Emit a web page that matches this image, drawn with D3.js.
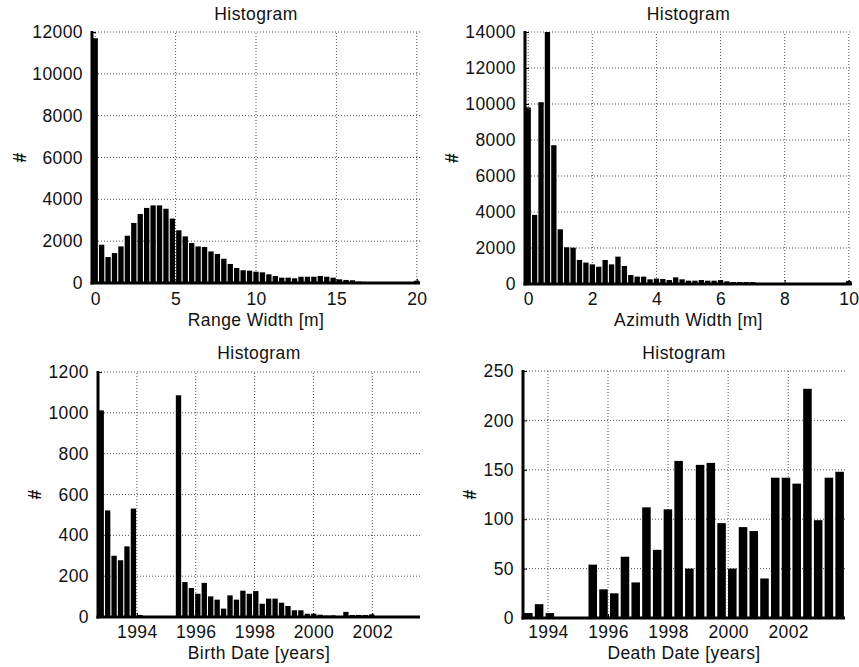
<!DOCTYPE html>
<html>
<head>
<meta charset="utf-8">
<script src="https://cdn.jsdelivr.net/npm/d3@7"></script>
<style>
  body { margin: 0; background: #fff; }
  svg text { font-family: "Liberation Sans", Arial, sans-serif; fill: #111; letter-spacing: 0.4px; }
</style>
</head>
<body>
<svg id="chart" width="859" height="667"></svg>
<script>
// Range width histogram, bins of 0.4 m centred on 0 .. 20
const rangeDomain = [-0.2, 20.2];
const rangeCounts = [11700, 1830, 1240, 1430, 1750, 2260, 2870, 3300, 3590, 3710,
  3710, 3550, 3080, 2520, 2230, 1910, 1750, 1720, 1510, 1390,
  1160, 910, 720, 610, 590, 540, 510, 415, 335, 255,
  255, 225, 300, 300, 300, 335, 300, 255, 175, 145,
  130, 65, 40, 30, 20, 10, 8, 6, 5, 4, 110];
const rangeXTicks = [0, 5, 10, 15, 20];
const rangeYTicks = [0, 2000, 4000, 6000, 8000, 10000, 12000];

// Azimuth width histogram, bins of 0.2 m centred on 0 .. 10
const azimuthDomain = [-0.1, 10.1];
const azimuthCounts = [9810, 3840, 10100, 14000, 7710, 3040, 2040, 2020, 1335, 1190,
  1090, 960, 1335, 1090, 1520, 1000, 500, 410, 410, 260,
  300, 280, 220, 370, 260, 185, 185, 220, 185, 185,
  220, 150, 110, 110, 110, 110, 60, 50, 40, 40,
  30, 30, 25, 20, 20, 15, 15, 10, 10, 10, 170];
const azimuthXTicks = [0, 2, 4, 6, 8, 10];
const azimuthYTicks = [0, 2000, 4000, 6000, 8000, 10000, 12000, 14000];

// Birth date histogram, 50 bins
const birthDomain = [1992.68, 2003.62];
const birthCounts = [1012, 522, 300, 278, 346, 531, 10, 0, 0, 0,
  0, 0, 1086, 171, 142, 114, 167, 101, 85, 41,
  106, 85, 129, 114, 127, 65, 90, 90, 70, 54,
  33, 33, 16, 16, 11, 7, 8, 3, 25, 10,
  10, 10, 13, 2, 2, 2, 2, 2, 2, 2];
const birthXTicks = [1994, 1996, 1998, 2000, 2002];
const birthYTicks = [0, 200, 400, 600, 800, 1000, 1200];

// Death date histogram, 30 bins
const deathDomain = [1993.17, 2003.89];
const deathCounts = [5, 14, 5, 0, 0, 0, 54, 29, 25, 62,
  36, 112, 69, 110, 159, 50, 155, 157, 96, 50,
  92, 88, 40, 142, 142, 136, 232, 99, 142, 148];
const deathXTicks = [1994, 1996, 1998, 2000, 2002];
const deathYTicks = [0, 50, 100, 150, 200, 250];

const panels = [
  { x: [92, 420], y: [283, 32], domain: rangeDomain, counts: rangeCounts,
    xTicks: rangeXTicks, yTicks: rangeYTicks, xLabel: 'Range Width [m]',
    titleY: 20, tickY: 305, labelY: 326, hashX: 20, gap: 1.1 },
  { x: [525, 852], y: [284, 32], domain: azimuthDomain, counts: azimuthCounts,
    xTicks: azimuthXTicks, yTicks: azimuthYTicks, xLabel: 'Azimuth Width [m]',
    titleY: 20, tickY: 305, labelY: 326, hashX: 452, gap: 1.1 },
  { x: [98, 420], y: [617, 372], domain: birthDomain, counts: birthCounts,
    xTicks: birthXTicks, yTicks: birthYTicks, xLabel: 'Birth Date [years]',
    titleY: 359, tickY: 638, labelY: 659, hashX: 35, gap: 1.1 },
  { x: [523, 845], y: [618, 371], domain: deathDomain, counts: deathCounts,
    xTicks: deathXTicks, yTicks: deathYTicks, xLabel: 'Death Date [years]',
    titleY: 359, tickY: 638, labelY: 659, hashX: 470, gap: 2.2 },
];

const FONT = 17.5;
const svg = d3.select('#chart');

function drawHistogram(p) {
  const g = svg.append('g');
  const xScale = d3.scaleLinear().domain(p.domain).range(p.x);
  const yScale = d3.scaleLinear()
    .domain([0, d3.max(p.yTicks)])
    .range(p.y);
  const binW = (p.domain[1] - p.domain[0]) / p.counts.length;
  const bins = p.counts.map((c, i) => ({ x0: p.domain[0] + i * binW, x1: p.domain[0] + (i + 1) * binW, c }));

  // dotted grid
  g.append('g').selectAll('line.hgrid')
    .data(p.yTicks.filter((d) => d > 0))
    .join('line')
      .attr('x1', p.x[0]).attr('x2', p.x[1])
      .attr('y1', (d) => yScale(d)).attr('y2', (d) => yScale(d))
      .attr('stroke', '#555').attr('stroke-width', 1).attr('stroke-dasharray', '1,2');
  g.append('g').selectAll('line.vgrid')
    .data(p.xTicks)
    .join('line')
      .attr('x1', (d) => xScale(d)).attr('x2', (d) => xScale(d))
      .attr('y1', p.y[0]).attr('y2', p.y[1])
      .attr('stroke', '#555').attr('stroke-width', 1).attr('stroke-dasharray', '1,2');

  // bars
  g.append('g').selectAll('rect')
    .data(bins)
    .join('rect')
      .attr('x', (d) => xScale(d.x0) + p.gap / 2)
      .attr('width', (d) => Math.max(0, xScale(d.x1) - xScale(d.x0) - p.gap))
      .attr('y', (d) => yScale(d.c))
      .attr('height', (d) => yScale(0) - yScale(d.c))
      .attr('fill', '#000');

  // axes
  const yAxis = d3.axisLeft(yScale).tickValues(p.yTicks).tickSize(-4).tickPadding(9).tickFormat(d3.format('d'));
  const xAxis = d3.axisBottom(xScale).tickValues(p.xTicks).tickSize(-4).tickPadding(0).tickFormat(d3.format('d'));

  const ya = g.append('g')
    .attr('transform', `translate(${p.x[0]},0)`)
    .call(yAxis);
  ya.select('.domain').remove();
  ya.selectAll('.tick line').attr('stroke', '#000');
  ya.selectAll('.tick text').attr('font-size', FONT).attr('fill', '#111');

  const xa = g.append('g')
    .attr('transform', `translate(0,${p.y[0]})`)
    .call(xAxis);
  xa.select('.domain').remove();
  xa.selectAll('.tick line').attr('stroke', '#000');
  xa.selectAll('.tick text')
    .attr('font-size', FONT).attr('fill', '#111')
    .attr('dy', null)
    .attr('y', p.tickY - p.y[0]);

  g.append('line')
    .attr('x1', p.x[0]).attr('x2', p.x[0])
    .attr('y1', p.y[1] - 1).attr('y2', p.y[0] + 1.5)
    .attr('stroke', '#000').attr('stroke-width', 3);
  g.append('line')
    .attr('x1', p.x[0] - 1.5).attr('x2', p.x[1])
    .attr('y1', p.y[0]).attr('y2', p.y[0])
    .attr('stroke', '#000').attr('stroke-width', 3);

  const cx = (p.x[0] + p.x[1]) / 2;
  g.append('text')
    .attr('x', cx).attr('y', p.titleY)
    .attr('text-anchor', 'middle').attr('font-size', FONT)
    .text('Histogram');
  g.append('text')
    .attr('x', cx).attr('y', p.labelY)
    .attr('text-anchor', 'middle').attr('font-size', FONT)
    .text(p.xLabel);
  g.append('text')
    .attr('transform', `translate(${p.hashX},${(p.y[0] + p.y[1]) / 2}) rotate(-90)`)
    .attr('text-anchor', 'middle').attr('dominant-baseline', 'central')
    .attr('font-size', FONT).attr('font-weight', 'bold')
    .text('#');
}

panels.forEach(drawHistogram);
</script>
</body>
</html>
